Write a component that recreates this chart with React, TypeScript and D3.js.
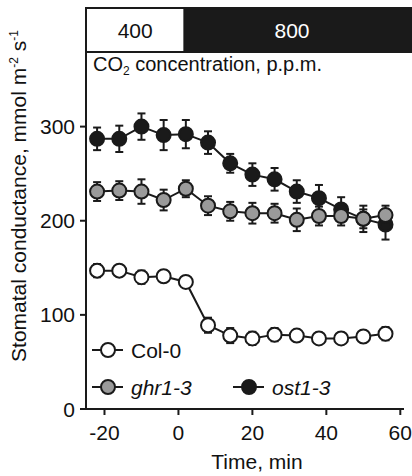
import React from 'react';
import * as d3 from 'd3';

// time points (min) and stomatal conductance (mmol m-2 s-1)
const times = [-22, -16, -10, -4, 2, 8, 14, 20, 26, 32, 38, 44, 50, 56];
const col0 = [147, 147, 140, 141, 135, 89, 78, 75, 79, 78, 75, 75, 77, 80];
const col0Err = [7, 6, 7, 6, 6, 8, 8, 7, 7, 6, 6, 6, 6, 7];
const ghr = [231, 232, 231, 222, 234, 216, 210, 208, 208, 201, 205, 205, 202, 206];
const ghrErr = [10, 10, 13, 11, 9, 10, 10, 11, 10, 12, 10, 10, 10, 10];
const ost = [287, 287, 300, 291, 292, 283, 261, 249, 244, 231, 224, 212, 202, 196];
const ostErr = [12, 14, 14, 16, 15, 12, 10, 12, 12, 12, 14, 13, 14, 16];
const xTicks = [-20, 0, 20, 40, 60];
const yTicks = [0, 100, 200, 300];

const W = 412;
const H = 476;
const font = "'Liberation Sans', Arial, sans-serif";
const fs = 21;

const x = d3.scaleLinear().domain([-25, 61]).range([86, 404]);
const y = d3.scaleLinear().domain([0, 426]).range([409, 8]);

const series = [
  { name: 'ost1-3', values: ost, err: ostErr, fill: '#1a1a1a' },
  { name: 'ghr1-3', values: ghr, err: ghrErr, fill: '#9a9a9a' },
  { name: 'Col-0', values: col0, err: col0Err, fill: '#ffffff' },
];

const line = d3.line<number>().x((d, i) => x(times[i])).y(d => y(d));

export default function App() {
  const r = 7;
  const boxTop = 8;
  const boxBottom = 52;
  const switchX = x(1.6);

  return (
    <div style={{ position: 'absolute', left: 0, top: 0 }}>
      <svg width={W} height={H} style={{ display: 'block', fontFamily: font }}>
        {/* CO2 box */}
        <rect x={x(-25)} y={boxTop} width={switchX - x(-25)} height={boxBottom - boxTop} fill="#fff" stroke="#1a1a1a" strokeWidth={2} />
        <rect x={switchX} y={boxTop - 1} width={W - switchX} height={boxBottom - boxTop + 2} fill="#1a1a1a" />
        <text x={(x(-25) + switchX) / 2} y={38} textAnchor="middle" fontSize={fs} fill="#111">400</text>
        <text x={292} y={38} textAnchor="middle" fontSize={fs} fill="#fff">800</text>
        <text x={93} y={71} fontSize={20} fill="#111">
          CO<tspan fontSize={12} dy={4}>2</tspan>
          <tspan dy={-4}> concentration, p.p.m.</tspan>
        </text>

        {/* axes */}
        <line x1={x(-25)} x2={x(-25)} y1={y(0) + 1} y2={boxTop} stroke="#1a1a1a" strokeWidth={2} />
        <line x1={x(-25) - 1} x2={x(61)} y1={y(0)} y2={y(0)} stroke="#1a1a1a" strokeWidth={2} />
        {yTicks.map(t => (
          <g key={'y' + t}>
            <line x1={x(-25) - 6} x2={x(-25)} y1={y(t)} y2={y(t)} stroke="#1a1a1a" strokeWidth={2} />
            <text x={75} y={y(t) + 7.5} textAnchor="end" fontSize={fs} fill="#111">{t}</text>
          </g>
        ))}
        {xTicks.map(t => (
          <g key={'x' + t}>
            <line x1={x(t)} x2={x(t)} y1={y(0)} y2={y(0) + 6} stroke="#1a1a1a" strokeWidth={2} />
            <text x={x(t)} y={440} textAnchor="middle" fontSize={fs} fill="#111">{t}</text>
          </g>
        ))}
        <text x={257} y={469} textAnchor="middle" fontSize={fs} fill="#111">Time, min</text>
        <text transform={`translate(26,196) rotate(-90)`} textAnchor="middle" fontSize={fs} fill="#111">
          Stomatal conductance, mmol m<tspan fontSize={12} dy={-8}>-2</tspan>
          <tspan dy={8}> s</tspan><tspan fontSize={12} dy={-8}>-1</tspan>
        </text>

        {/* series */}
        {series.map(s => (
          <g key={s.name}>
            <path d={line(s.values) || ''} fill="none" stroke="#1a1a1a" strokeWidth={2} />
            {s.values.map((v, i) => (
              <g key={i}>
                <line x1={x(times[i])} x2={x(times[i])} y1={y(v - s.err[i])} y2={y(v + s.err[i])} stroke="#1a1a1a" strokeWidth={2} />
                <line x1={x(times[i]) - 4} x2={x(times[i]) + 4} y1={y(v - s.err[i])} y2={y(v - s.err[i])} stroke="#1a1a1a" strokeWidth={2} />
                <line x1={x(times[i]) - 4} x2={x(times[i]) + 4} y1={y(v + s.err[i])} y2={y(v + s.err[i])} stroke="#1a1a1a" strokeWidth={2} />
                <circle cx={x(times[i])} cy={y(v)} r={r} fill={s.fill} stroke="#1a1a1a" strokeWidth={2} />
              </g>
            ))}
          </g>
        ))}

        {/* legend */}
        {[
          { s: series[2], lx: 92, ly: 350, italic: false },
          { s: series[1], lx: 92, ly: 387, italic: true },
          { s: series[0], lx: 233, ly: 387, italic: true },
        ].map(l => (
          <g key={'lg' + l.s.name}>
            <line x1={l.lx} x2={l.lx + 31} y1={l.ly} y2={l.ly} stroke="#1a1a1a" strokeWidth={2} />
            <circle cx={l.lx + 16} cy={l.ly} r={r} fill={l.s.fill} stroke="#1a1a1a" strokeWidth={2} />
            <text x={l.lx + 39} y={l.ly + 7.5} fontSize={fs} fontStyle={l.italic ? 'italic' : 'normal'} fill="#111">{l.s.name}</text>
          </g>
        ))}
      </svg>
    </div>
  );
}
